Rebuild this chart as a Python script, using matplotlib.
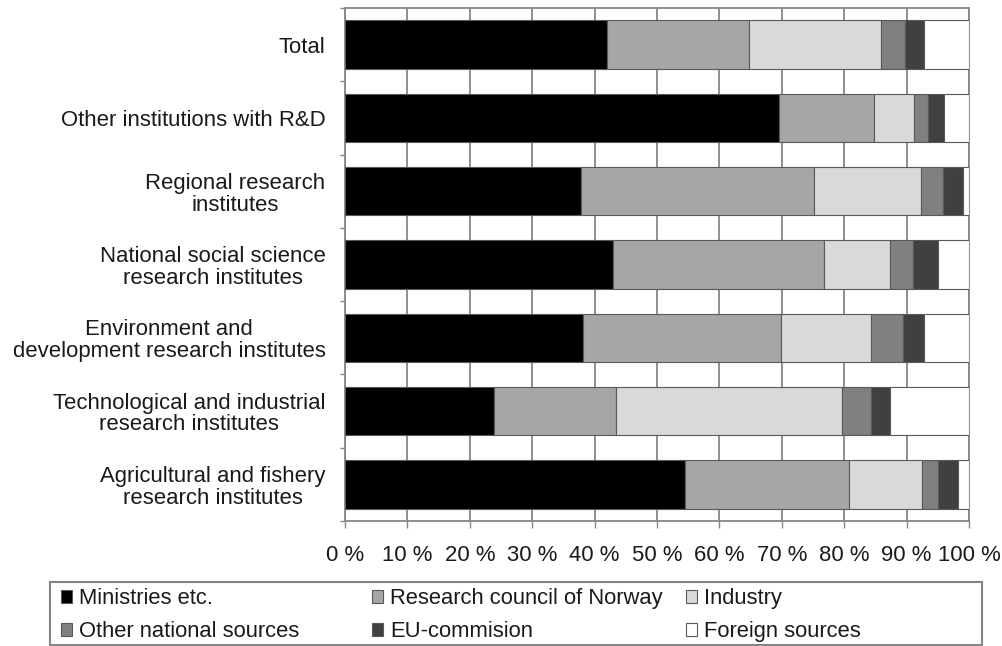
import matplotlib
matplotlib.use("Agg")
import matplotlib.pyplot as plt
from matplotlib.patches import Rectangle, Patch
import numpy as np

plt.rcParams['font.family'] = ['Liberation Sans', 'DejaVu Sans']

categories = [
    "Total",
    "Other institutions with R&D",
    "Regional research\ninstitutes",
    "National social science\nresearch institutes",
    "Environment and\ndevelopment research institutes",
    "Technological and industrial\nresearch institutes",
    "Agricultural and fishery\nresearch institutes",
]
series_names = ["Ministries etc.", "Research council of Norway", "Industry",
                "Other national sources", "EU-commision", "Foreign sources"]
ministries = [42.0, 69.5, 37.9, 42.9, 38.2, 23.9, 54.5]
research_council = [22.7, 15.2, 37.3, 33.8, 31.6, 19.6, 26.3]
industry = [21.2, 6.5, 17.1, 10.7, 14.5, 36.1, 11.7]
other_national = [3.8, 2.3, 3.6, 3.7, 5.2, 4.7, 2.6]
eu_commision = [3.1, 2.5, 3.1, 3.9, 3.3, 3.1, 3.1]
foreign = [7.2, 4.0, 1.0, 5.0, 7.2, 12.6, 1.8]
xtick_values = list(range(0, 101, 10))
xtick_labels = [f"{v} %" for v in xtick_values]

colors = ["#000000", "#A6A6A6", "#D9D9D9", "#808080", "#404040", "#FFFFFF"]
series = [ministries, research_council, industry, other_national, eu_commision, foreign]

W, H = 1002, 646
fig = plt.figure(figsize=(W / 100, H / 100), dpi=100)
L, R, T, B = 345, 969, 8, 521
ax = fig.add_axes([L / W, 1 - B / H, (R - L) / W, (B - T) / H])

grid_c = "#868686"
ypos = np.arange(len(categories))
left = np.zeros(len(categories))
for vals, c, name in zip(series, colors, series_names):
    v = np.array(vals)
    ax.barh(ypos, v, left=left, height=0.66, color=c, edgecolor="#595959",
            linewidth=0.8, label=name, zorder=3)
    left += v

ax.set_xlim(0, 100)
ax.set_ylim(len(categories) - 0.5, -0.5)
ax.set_xticks(xtick_values)
ax.set_xticklabels(xtick_labels)
ax.xaxis.grid(True, color=grid_c, linewidth=1.3, zorder=0)
ax.set_axisbelow(True)

ax.set_yticks(np.arange(-0.5, len(categories) + 0.5, 1.0))
ax.set_yticklabels([])
ax.set_yticks(ypos, minor=True)
ax.set_yticklabels(categories, minor=True, multialignment="center", linespacing=1.05)
ax.tick_params(axis="y", which="major", length=3.5, width=1, color=grid_c, direction="out")
ax.tick_params(axis="y", which="minor", length=0, pad=14, labelsize=15.9, labelcolor="#1a1a1a")
ax.tick_params(axis="x", which="major", length=5, width=1, color=grid_c, pad=12,
               labelsize=15.9, labelcolor="#1a1a1a")
for s in ax.spines.values():
    s.set_color(grid_c)
    s.set_linewidth(1.3)

# Legend frame
fig.add_artist(Rectangle((50 / W, 1 - 645 / H), 932 / W, 63 / H, transform=fig.transFigure,
                         facecolor="white", edgecolor=grid_c, linewidth=1.5, zorder=1))

handles = [Patch(facecolor=c, edgecolor="#595959", linewidth=0.8) for c in colors]
col_x = [61, 372, 686]
col_items = [[0, 3], [1, 4], [2, 5]]
for x0, idx in zip(col_x, col_items):
    fig.legend([handles[i] for i in idx], [series_names[i] for i in idx],
               loc="upper left", bbox_to_anchor=(x0 / W, 1 - 588 / H),
               frameon=False, fontsize=15.8, handlelength=0.52, handleheight=0.52,
               handletextpad=0.3, labelspacing=0.55, borderpad=0, borderaxespad=0,
               labelcolor="#1a1a1a")

fig.savefig("out.png", dpi=100)
